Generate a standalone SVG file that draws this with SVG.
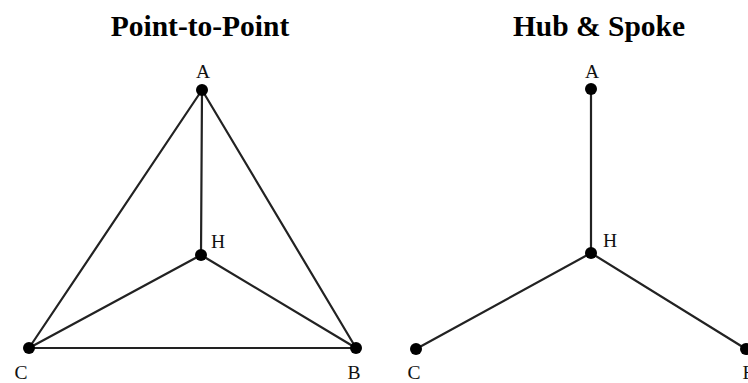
<svg xmlns="http://www.w3.org/2000/svg" width="748" height="383" viewBox="0 0 748 383">
<style>
.title{font-family:"Liberation Serif","Times New Roman",serif;font-weight:bold;font-size:29.5px;fill:#000;text-anchor:middle}
.lbl{font-family:"Liberation Serif","Times New Roman",serif;font-size:19.5px;fill:#111;text-anchor:middle}
.edge{stroke:#222;stroke-width:2.2;fill:none;stroke-linecap:round}
.dot{fill:#000}
</style>
<rect width="748" height="383" fill="#fff"/>
<text class="title" x="200" y="36">Point-to-Point</text>
<text class="title" x="599" y="36">Hub &amp; Spoke</text>
<g id="connectors">
  <line class="edge" x1="202" y1="90" x2="201" y2="255"/>
  <line class="edge" x1="202" y1="90" x2="29" y2="348"/>
  <line class="edge" x1="202" y1="90" x2="356" y2="348"/>
  <line class="edge" x1="201" y1="255" x2="29" y2="348"/>
  <line class="edge" x1="201" y1="255" x2="356" y2="348"/>
  <line class="edge" x1="29" y1="348" x2="356" y2="348"/>
  <line class="edge" x1="591" y1="89" x2="591" y2="253"/>
  <line class="edge" x1="591" y1="253" x2="416" y2="349"/>
  <line class="edge" x1="591" y1="253" x2="746" y2="349"/>
</g>
<g id="p2p-A"><circle class="dot" cx="202" cy="90" r="6"/><text class="lbl" x="203" y="78">A</text></g>
<g id="p2p-H"><circle class="dot" cx="201" cy="255" r="6"/><text class="lbl" x="218" y="248">H</text></g>
<g id="p2p-C"><circle class="dot" cx="29" cy="348" r="6"/><text class="lbl" x="21" y="379">C</text></g>
<g id="p2p-B"><circle class="dot" cx="356" cy="348" r="6"/><text class="lbl" x="354" y="379">B</text></g>
<g id="hs-A"><circle class="dot" cx="591" cy="89" r="6"/><text class="lbl" x="592" y="78">A</text></g>
<g id="hs-H"><circle class="dot" cx="591" cy="253" r="6"/><text class="lbl" x="610" y="247">H</text></g>
<g id="hs-C"><circle class="dot" cx="416" cy="349" r="6"/><text class="lbl" x="414" y="379">C</text></g>
<g id="hs-B"><circle class="dot" cx="746" cy="349" r="6"/><text class="lbl" x="749" y="379">B</text></g>
</svg>
